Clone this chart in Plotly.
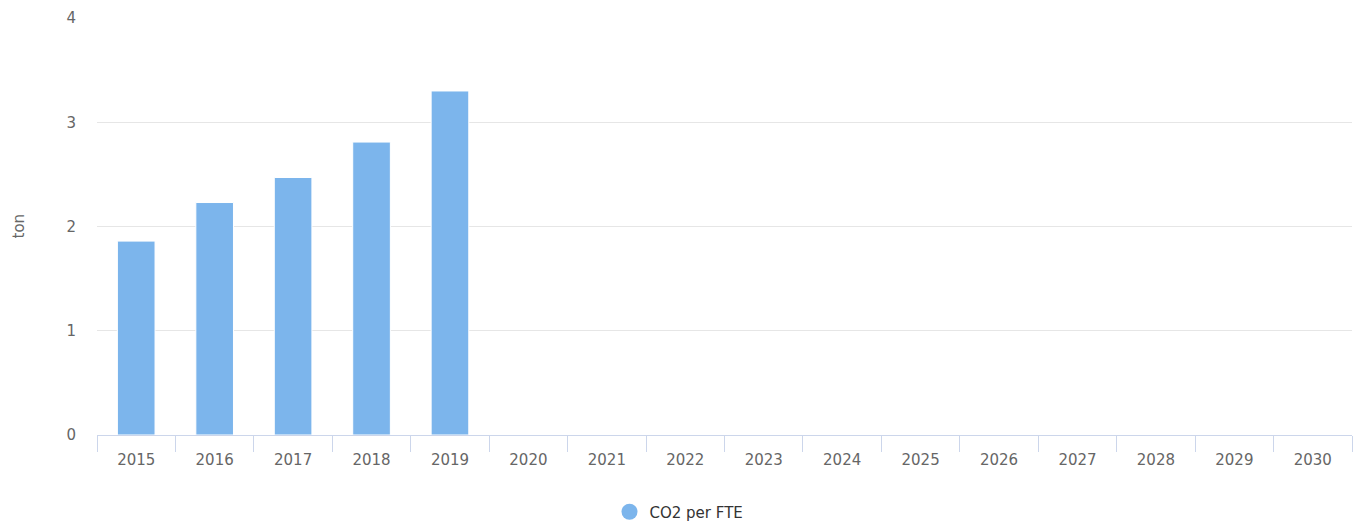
import plotly.graph_objects as go

years = [str(y) for y in range(2015, 2031)]
co2_per_fte = [1.86, 2.23, 2.47, 2.81, 3.30] + [None] * 11
series_name = "CO2 per FTE"
y_title = "ton"
y_ticks = [0, 1, 2, 3, 4]

BAR = "#7cb5ec"
FONT = "DejaVu Sans, Verdana, sans-serif"

fig = go.Figure()
fig.add_trace(go.Bar(
    x=years, y=co2_per_fte, name=series_name, showlegend=False,
    marker=dict(color=BAR, line=dict(color="white", width=1)),
    hoverinfo="x+y",
))
# legend entry with circle symbol (Highcharts style)
fig.add_trace(go.Scatter(
    x=[None], y=[None], mode="markers", name=series_name,
    marker=dict(color=BAR, size=20, symbol="circle"),
))

fig.update_layout(
    width=1358, height=526,
    margin=dict(l=97, r=6, t=18, b=91, autoexpand=False),
    paper_bgcolor="white", plot_bgcolor="white",
    font=dict(family=FONT, size=15, color="#666666"),
    bargap=0.52,
    showlegend=True,
    legend=dict(orientation="h", xref="container", yref="container",
                x=0.5, xanchor="center", y=14 / 526, yanchor="middle",
                font=dict(family=FONT, size=15, color="#333333")),
    xaxis=dict(
        type="category", categoryorder="array", categoryarray=years,
        showgrid=False, showline=True, linecolor="#ccd6eb", linewidth=1,
        ticks="outside", tickson="boundaries", ticklen=16, tickcolor="#ccd6eb",
        ticklabelstandoff=11,
        tickfont=dict(family=FONT, size=15, color="#666666"),
        range=[-0.5, 15.5],
    ),
    yaxis=dict(
        range=[0, 4], tickvals=y_ticks, showgrid=True, gridcolor="#e6e6e6", gridwidth=1,
        zeroline=False, showline=False, ticks="", ticklabelstandoff=20,
        tickfont=dict(family=FONT, size=15, color="#666666"),
    ),
    annotations=[dict(
        text=y_title, xref="paper", yref="paper", x=0, y=0.5, xanchor="center",
        yanchor="middle", xshift=-79, textangle=-90, showarrow=False,
        font=dict(family=FONT, size=15, color="#666666"),
    )],
)

fig.write_html("out.html")
